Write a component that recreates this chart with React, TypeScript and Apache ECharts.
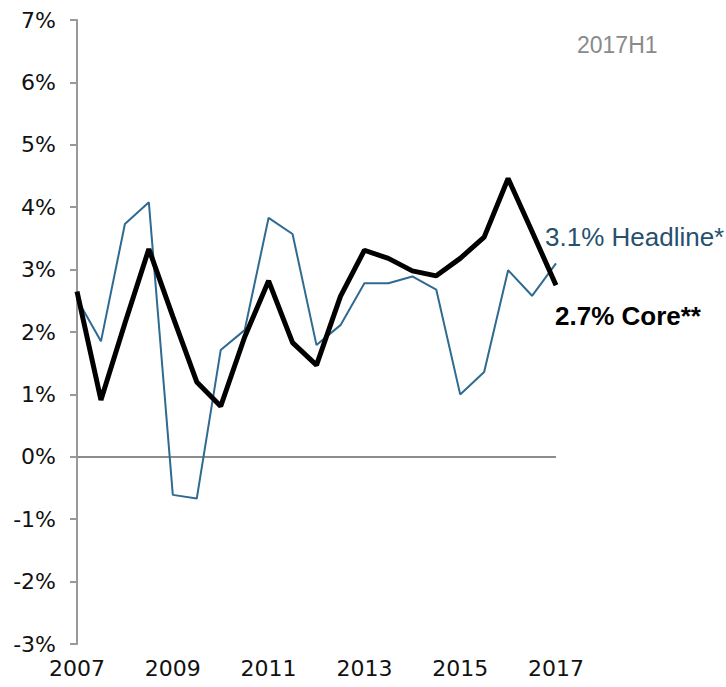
import React, { useEffect, useRef } from "react";
import * as echarts from "echarts";

const categories: string[] = [
  "2007", "2007H2", "2008", "2008H2", "2009", "2009H2", "2010", "2010H2",
  "2011", "2011H2", "2012", "2012H2", "2013", "2013H2", "2014", "2014H2",
  "2015", "2015H2", "2016", "2016H2", "2017",
];

const headline: number[] = [
  2.53, 1.85, 3.73, 4.08, -0.61, -0.67, 1.71, 2.03, 3.83, 3.57, 1.79,
  2.11, 2.78, 2.78, 2.89, 2.68, 1.0, 1.36, 2.99, 2.58, 3.1,
];

const core: number[] = [
  2.65, 0.91, 2.14, 3.33, 2.25, 1.2, 0.81, 1.92, 2.82, 1.83, 1.47,
  2.57, 3.31, 3.18, 2.98, 2.9, 3.18, 3.52, 4.46, 3.61, 2.75,
];

const yTicks = { min: -3, max: 7, interval: 1 };

const FONT = "'DejaVu Sans', sans-serif";
const ARIAL = "'Liberation Sans', Arial, sans-serif";

export default function App() {
  const ref = useRef<HTMLDivElement>(null);
  useEffect(() => {
    if (!ref.current) return;
    const chart = echarts.init(ref.current, undefined, { renderer: "svg" });
    chart.setOption({
      animation: false,
      backgroundColor: "#ffffff",
      grid: { left: 77, right: 170, top: 20, bottom: 43, containLabel: false },
      xAxis: {
        type: "category",
        data: categories,
        boundaryGap: false,
        axisLine: { show: false, onZero: false },
        axisTick: { show: false },
        axisLabel: {
          interval: 3,
          color: "#111",
          fontSize: 22,
          fontFamily: FONT,
          margin: 13,
          formatter: (v: string) => v.slice(0, 4),
        },
        splitLine: { show: false },
      },
      yAxis: {
        type: "value",
        min: yTicks.min,
        max: yTicks.max,
        interval: yTicks.interval,
        axisLine: { show: true, lineStyle: { color: "#999", width: 2 } },
        axisTick: { show: true, length: 7, lineStyle: { color: "#999", width: 2 } },
        axisLabel: {
          color: "#111",
          fontSize: 22,
          fontFamily: FONT,
          margin: 21,
          formatter: (v: number) => `${v}%`,
        },
        splitLine: { show: false },
      },
      series: [
        {
          name: "Headline",
          type: "line",
          data: headline,
          symbol: "none",
          lineStyle: { color: "#2F6A91", width: 2 },
          z: 2,
          markLine: {
            silent: true,
            symbol: "none",
            label: { show: false },
            lineStyle: { color: "#8c8c8c", width: 2, type: "solid" },
            data: [{ yAxis: 0 }],
            z: 1,
          },
        },
        {
          name: "Core",
          type: "line",
          data: core,
          symbol: "none",
          lineStyle: { color: "#000", width: 5 },
          z: 3,
        },
      ],
      graphic: [
        {
          type: "text",
          x: 577,
          y: 45,
          style: {
            text: "2017H1",
            fill: "#8a8a8a",
            font: `23px ${ARIAL}`,
            verticalAlign: "middle",
          },
        },
        {
          type: "text",
          x: 545,
          y: 237,
          style: {
            text: "3.1% Headline*",
            fill: "#27506f",
            font: `26px ${ARIAL}`,
            verticalAlign: "middle",
          },
        },
        {
          type: "text",
          x: 555,
          y: 316,
          style: {
            text: "2.7% Core**",
            fill: "#000",
            font: `bold 26px ${ARIAL}`,
            verticalAlign: "middle",
          },
        },
      ],
    });
    return () => chart.dispose();
  }, []);
  return (
    <div
      ref={ref}
      style={{ position: "fixed", left: 0, top: 0, width: 726, height: 687 }}
    />
  );
}
